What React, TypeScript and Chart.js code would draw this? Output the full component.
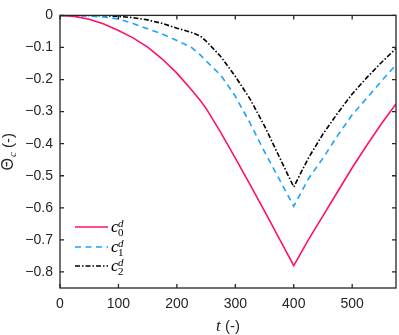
import React, { useEffect, useRef } from "react";
import { Chart, registerables } from "chart.js";

Chart.register(...registerables);

const tValues = [0, 25, 50, 75, 100, 125, 150, 175, 200, 225, 240, 250, 275, 300, 325, 350, 375, 400, 425, 450, 475, 500, 525, 550, 575];
const c0 = [0, -0.003, -0.012, -0.027, -0.047, -0.07, -0.099, -0.136, -0.18, -0.232, -0.265, -0.29, -0.365, -0.445, -0.527, -0.61, -0.695, -0.78, -0.7, -0.625, -0.55, -0.475, -0.405, -0.338, -0.276];
const c1 = [0, 0, -0.002, -0.005, -0.011, -0.025, -0.042, -0.058, -0.078, -0.1, -0.123, -0.142, -0.186, -0.252, -0.335, -0.425, -0.51, -0.595, -0.51, -0.445, -0.375, -0.31, -0.258, -0.205, -0.154];
const c2 = [0, 0, 0, -0.001, -0.003, -0.007, -0.014, -0.025, -0.04, -0.053, -0.064, -0.08, -0.128, -0.19, -0.26, -0.345, -0.44, -0.535, -0.445, -0.37, -0.305, -0.245, -0.194, -0.147, -0.103];

const seriesSubscripts = ["0", "1", "2"];
const xTicks = [0, 100, 200, 300, 400, 500];
const yTicks = [0, -0.1, -0.2, -0.3, -0.4, -0.5, -0.6, -0.7, -0.8];
const xTitleVar = "t";
const axisUnit = "(-)";
const yTitleSym = "\u0398";
const yTitleSub = "c";

const PINK = "#ff0f6e";
const BLUE = "#19a2ff";
const BLACK = "#000000";
const AXIS = "#262626";
const SANS = "'Liberation Sans', Arial, sans-serif";
const SERIF = "'Liberation Serif', 'Times New Roman', serif";

const toPts = (ys: number[]) => tValues.map((t, i) => ({ x: t, y: ys[i] }));

const decorPlugin = {
  id: "decor",
  afterDraw(chart: any) {
    const { ctx, chartArea } = chart;
    const { left, right, top, bottom } = chartArea;
    const xs = chart.scales.x;
    const ys = chart.scales.y;
    ctx.save();
    ctx.strokeStyle = AXIS;
    ctx.lineWidth = 1.3;
    ctx.setLineDash([]);
    ctx.strokeRect(left, top, right - left, bottom - top);
    const tl = 4;
    ctx.beginPath();
    xTicks.forEach((v) => {
      const px = xs.getPixelForValue(v);
      ctx.moveTo(px, bottom);
      ctx.lineTo(px, bottom - tl);
      ctx.moveTo(px, top);
      ctx.lineTo(px, top + tl);
    });
    yTicks.forEach((v) => {
      const py = ys.getPixelForValue(v);
      ctx.moveTo(left, py);
      ctx.lineTo(left + tl, py);
      ctx.moveTo(right, py);
      ctx.lineTo(right - tl, py);
    });
    ctx.stroke();

    const ds = chart.data.datasets;
    const ly = [227, 247, 266];
    ds.forEach((d: any, i: number) => {
      const y = ly[i];
      ctx.strokeStyle = d.borderColor;
      ctx.lineWidth = d.borderWidth;
      ctx.setLineDash(d.borderDash || []);
      ctx.beginPath();
      ctx.moveTo(75, y);
      ctx.lineTo(108, y);
      ctx.stroke();
      ctx.setLineDash([]);
      ctx.fillStyle = "#000";
      ctx.textBaseline = "alphabetic";
      ctx.textAlign = "left";
      ctx.font = `italic 17px ${SERIF}`;
      ctx.fillText("c", 111, y + 5);
      ctx.font = `italic 11px ${SERIF}`;
      ctx.fillText("d", 118, y);
      ctx.font = `11px ${SERIF}`;
      ctx.fillText(seriesSubscripts[i], 118, y + 9);
    });

    ctx.fillStyle = AXIS;
    ctx.textBaseline = "alphabetic";
    ctx.textAlign = "left";
    ctx.font = `italic 17px ${SERIF}`;
    const wT = ctx.measureText(xTitleVar).width;
    ctx.font = `15px ${SANS}`;
    const wU = ctx.measureText(" " + axisUnit).width;
    const cx = (left + right) / 2;
    const sx = cx - (wT + wU) / 2;
    ctx.font = `italic 17px ${SERIF}`;
    ctx.fillText(xTitleVar, sx, 331);
    ctx.font = `15px ${SANS}`;
    ctx.fillText(" " + axisUnit, sx + wT, 331);

    ctx.save();
    ctx.translate(13, (top + bottom) / 2);
    ctx.rotate(-Math.PI / 2);
    ctx.font = `16px ${SANS}`;
    const wS = ctx.measureText(yTitleSym).width;
    ctx.font = `italic 11px ${SERIF}`;
    const wSub = ctx.measureText(yTitleSub).width;
    ctx.font = `15px ${SANS}`;
    const wY = ctx.measureText(" " + axisUnit).width;
    const yx = -(wS + wSub + 1 + wY) / 2;
    ctx.font = `16px ${SANS}`;
    ctx.fillText(yTitleSym, yx, 0);
    ctx.font = `italic 11px ${SERIF}`;
    ctx.fillText(yTitleSub, yx + wS + 1, 3);
    ctx.font = `15px ${SANS}`;
    ctx.fillText(" " + axisUnit, yx + wS + 1 + wSub, 0);
    ctx.restore();

    ctx.restore();
  },
};

export default function App() {
  const ref = useRef<HTMLCanvasElement | null>(null);
  useEffect(() => {
    document.body.style.margin = "0";
    const canvas = ref.current!;
    const chart = new Chart(canvas, {
      type: "line",
      data: {
        datasets: [
          { label: "c0", data: toPts(c0), borderColor: PINK, borderWidth: 1.6, pointRadius: 0, tension: 0, fill: false },
          { label: "c1", data: toPts(c1), borderColor: BLUE, borderWidth: 1.6, borderDash: [6, 4.5], pointRadius: 0, tension: 0, fill: false },
          { label: "c2", data: toPts(c2), borderColor: BLACK, borderWidth: 1.6, borderDash: [5, 2, 1.5, 2], pointRadius: 0, tension: 0, fill: false },
        ],
      },
      options: {
        responsive: false,
        animation: false,
        layout: { padding: { top: 5, right: 3, left: 0, bottom: 0 } },
        plugins: { legend: { display: false }, tooltip: { enabled: false } },
        scales: {
          x: {
            type: "linear",
            min: 0,
            max: 575,
            afterBuildTicks: (s: any) => {
              s.ticks = xTicks.map((v) => ({ value: v }));
            },
            afterFit: (s: any) => {
              s.height = 47;
            },
            grid: { display: false, drawTicks: false },
            border: { display: false },
            ticks: { color: AXIS, font: { family: SANS, size: 14 }, padding: 8, maxRotation: 0, autoSkip: false },
          },
          y: {
            type: "linear",
            min: -0.85,
            max: 0,
            afterBuildTicks: (s: any) => {
              s.ticks = yTicks.map((v) => ({ value: v }));
            },
            afterFit: (s: any) => {
              s.width = 60;
            },
            grid: { display: false, drawTicks: false },
            border: { display: false },
            ticks: {
              color: AXIS,
              font: { family: SANS, size: 14 },
              padding: 7,
              autoSkip: false,
              callback: (v: any) => {
                if (Math.abs(v) < 1e-9) return "0";
                const r = Math.round(Math.abs(v) * 10) / 10;
                return (v < 0 ? "\u2212" : "") + String(r);
              },
            },
          },
        },
      },
      plugins: [decorPlugin],
    });
    return () => chart.destroy();
  }, []);
  return <canvas ref={ref} width={399} height={335} style={{ display: "block" }} />;
}
